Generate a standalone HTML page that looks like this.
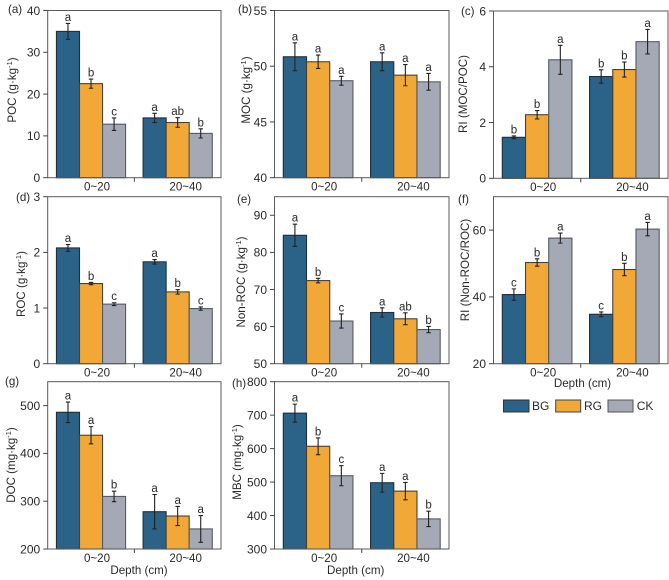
<!DOCTYPE html>
<html>
<head>
<meta charset="utf-8">
<title>Soil carbon fractions by depth</title>
<style>
html,body{margin:0;padding:0;background:#fff;width:669px;height:580px;overflow:hidden}
svg{display:block;font-family:"Liberation Sans",Arial,sans-serif;fill:#2a2a2a;filter:blur(0.3px)}
</style>
</head>
<body>
<svg id="chart" width="669" height="580" viewBox="0 0 669 580" xmlns="http://www.w3.org/2000/svg">
  <text x="582.5" y="387" font-size="11.6" text-anchor="middle">Depth (cm)</text>
  <text x="139" y="574" font-size="11.6" text-anchor="middle">Depth (cm)</text>
  <text x="355.7" y="574" font-size="11.6" text-anchor="middle">Depth (cm)</text>
  <g>
    <rect x="503.5" y="400" width="25.5" height="12" fill="#2b6288" stroke="#333" stroke-width="1"/>
    <text x="532" y="410" font-size="12">BG</text>
    <rect x="555.7" y="400" width="25" height="12" fill="#f1a836" stroke="#444" stroke-width="1"/>
    <text x="584" y="410" font-size="12">RG</text>
    <rect x="608" y="400" width="25" height="12" fill="#a5a8b5" stroke="#555" stroke-width="1"/>
    <text x="636.7" y="410" font-size="12">CK</text>
  </g>
</svg>
<script>
const depthCategories = ["0~20", "20~40"];
const seriesNames = ["BG", "RG", "CK"];

const pocValues = [35, 22.5, 12.8, 14.3, 13.2, 10.6];
const pocErrors = [1.9, 1.1, 1.5, 1.1, 1.15, 1.1];
const pocLetters = ["a", "b", "c", "a", "ab", "b"];
const pocTicks = [0, 10, 20, 30, 40];

const mocValues = [50.85, 50.4, 48.7, 50.4, 49.2, 48.6];
const mocErrors = [1.25, 0.6, 0.4, 0.8, 0.95, 0.75];
const mocLetters = ["a", "a", "a", "a", "a", "a"];
const mocTicks = [40, 45, 50, 55];

const riMocValues = [1.47, 2.28, 4.25, 3.65, 3.9, 4.9];
const riMocErrors = [0.05, 0.15, 0.52, 0.24, 0.27, 0.44];
const riMocLetters = ["b", "b", "a", "b", "b", "a"];
const riMocTicks = [0, 2, 4, 6];

const rocValues = [2.08, 1.44, 1.07, 1.83, 1.29, 0.99];
const rocErrors = [0.06, 0.02, 0.025, 0.04, 0.04, 0.03];
const rocLetters = ["a", "b", "c", "a", "b", "c"];
const rocTicks = [0, 1, 2, 3];

const nonRocValues = [84.6, 72.4, 61.5, 63.8, 62.1, 59.2];
const nonRocErrors = [3, 0.6, 1.9, 1.25, 1.6, 0.85];
const nonRocLetters = ["a", "b", "c", "a", "ab", "b"];
const nonRocTicks = [50, 60, 70, 80, 90];

const riRocValues = [40.7, 50.3, 57.6, 34.8, 48.2, 60.3];
const riRocErrors = [1.7, 1.1, 1.5, 0.7, 1.85, 2];
const riRocLetters = ["c", "b", "a", "c", "b", "a"];
const riRocTicks = [20, 40, 60];

const docValues = [486, 438, 310, 278, 269, 242];
const docErrors = [21.5, 18, 11, 36, 20, 28];
const docLetters = ["a", "a", "b", "a", "a", "a"];
const docTicks = [200, 300, 400, 500];

const mbcValues = [706, 607, 519, 498, 473, 390];
const mbcErrors = [27, 25, 30, 28, 26, 23];
const mbcLetters = ["a", "b", "c", "a", "a", "b"];
const mbcTicks = [300, 400, 500, 600, 700, 800];

const svgNS = "http://www.w3.org/2000/svg";
const root = document.getElementById("chart");
const fills = ["#2b6288", "#f1a836", "#a5a8b5"];
const strokes = ["#1f2f3c", "#4a4030", "#555a60"];

function make(tag, parent, attrs, text) {
  const el = document.createElementNS(svgNS, tag);
  for (const k in attrs) el.setAttribute(k, attrs[k]);
  if (text !== undefined) el.textContent = text;
  parent.appendChild(el);
  return el;
}

function drawPanel(p) {
  const width = p.right - p.left;
  const yScale = v => p.bottom - (v - p.min) / (p.max - p.min) * (p.bottom - p.top);
  const groupCenter = g => p.left + width * (0.25 + 0.5 * g);
  const barWidth = width * 0.133;
  const xBar = (g, s) => groupCenter(g) + (s - 1.5) * barWidth;

  const g = make("g", root, {});
  
  

  p.values.forEach((value, i) => {
    const group = Math.floor(i / seriesNames.length);
    const s = i % seriesNames.length;
    const x = xBar(group, s);
    const y = yScale(value);
    const bar = make("rect", g, {x: x, y: y, width: barWidth, height: p.bottom - y, fill: fills[s], stroke: strokes[s], "stroke-width": 1.1});
    
    
  });

  const box = make("rect", g, {x: p.left, y: p.top, width: width, height: p.bottom - p.top, fill: "none", stroke: "#5a5a5a", "stroke-width": 1});
  
  

  p.values.forEach((value, i) => {
    const group = Math.floor(i / seriesNames.length);
    const s = i % seriesNames.length;
    const cx = xBar(group, s) + barWidth / 2;
    const hi = yScale(value + p.errors[i]);
    const lo = yScale(value - p.errors[i]);
    const err = make("path", g, {d: "M" + cx + " " + hi + "V" + lo + "M" + (cx - 2.2) + " " + hi + "h4.4M" + (cx - 2.2) + " " + lo + "h4.4", fill: "none", stroke: "#222", "stroke-width": 1.1});
    
    
    const letter = make("text", g, {x: cx, y: hi - 2.5, "font-size": 11.5, "text-anchor": "middle"}, p.letters[i]);
    
    
  });

  p.ticks.forEach(t => {
    const y = yScale(t);
    const tick = make("line", g, {x1: p.left - 4.5, x2: p.left, y1: y, y2: y, stroke: "#444", "stroke-width": 1});
    
    
    const label = make("text", g, {x: p.left - 7.5, y: y + 4.3, "font-size": 12, "text-anchor": "end"}, t);
    
    
  });

  const midTick = make("line", g, {x1: p.left + width / 2, x2: p.left + width / 2, y1: p.bottom, y2: p.bottom + 4, stroke: "#444", "stroke-width": 1});
  
  

  depthCategories.forEach((c, idx) => {
    const label = make("text", g, {x: groupCenter(idx) + (idx ? 8 : 6), y: p.bottom + 12.8, "font-size": 11.6, "text-anchor": "middle"}, c);
    
    
  });

  const title = make("text", g, {transform: "translate(" + p.titleX + "," + p.titleY + ") rotate(-90)", "font-size": 11.6, "text-anchor": "middle"});
  
  
  make("tspan", title, {}, p.title);
  if (p.unit) {
    make("tspan", title, {dy: -4, "font-size": 7.5}, "-1");
    make("tspan", title, {dy: 4}, ")");
  }

  const tag = make("text", g, {x: p.tagX, y: p.tagY, "font-size": 11.6}, "(" + p.id + ")");
  
  
}

const col1 = {left: 47.7, right: 221};
const col2 = {left: 274.5, right: 449};
const col3 = {left: 493.5, right: 668};
const row1 = {top: 10.5, bottom: 177.7};
const row2 = {top: 196.7, bottom: 363.7};
const row3 = {top: 381.7, bottom: 549};

drawPanel({...col1, ...row1, id: "a", min: 0, max: 40, values: pocValues, errors: pocErrors, letters: pocLetters, ticks: pocTicks, title: "POC (g·kg", unit: true, titleX: 16, titleY: 90, tagX: 8, tagY: 13});
drawPanel({...col2, ...row1, id: "b", min: 40, max: 55, values: mocValues, errors: mocErrors, letters: mocLetters, ticks: mocTicks, title: "MOC (g·kg", unit: true, titleX: 250, titleY: 90, tagX: 238, tagY: 13});
drawPanel({...col3, top: 11, bottom: 178.3, id: "c", min: 0, max: 6, values: riMocValues, errors: riMocErrors, letters: riMocLetters, ticks: riMocTicks, title: "RI (MOC/POC)", unit: false, titleX: 467, titleY: 94, tagX: 461, tagY: 15});
drawPanel({...col1, ...row2, id: "d", min: 0, max: 3, values: rocValues, errors: rocErrors, letters: rocLetters, ticks: rocTicks, title: "ROC (g·kg", unit: true, titleX: 25, titleY: 284, tagX: 16, tagY: 201});
drawPanel({...col2, ...row2, id: "e", min: 50, max: 95, values: nonRocValues, errors: nonRocErrors, letters: nonRocLetters, ticks: nonRocTicks, title: "Non-ROC (g·kg", unit: true, titleX: 245, titleY: 282, tagX: 237, tagY: 203});
drawPanel({...col3, ...row2, id: "f", min: 20, max: 70, values: riRocValues, errors: riRocErrors, letters: riRocLetters, ticks: riRocTicks, title: "RI (Non-ROC/ROC)", unit: false, titleX: 469, titleY: 270, tagX: 458, tagY: 203});
drawPanel({...col1, ...row3, id: "g", min: 200, max: 550, values: docValues, errors: docErrors, letters: docLetters, ticks: docTicks, title: "DOC (mg·kg", unit: true, titleX: 15, titleY: 465, tagX: 5, tagY: 385});
drawPanel({...col2, ...row3, id: "h", min: 300, max: 800, values: mbcValues, errors: mbcErrors, letters: mbcLetters, ticks: mbcTicks, title: "MBC (mg·kg", unit: true, titleX: 241, titleY: 462, tagX: 232, tagY: 387});
</script>
</body>
</html>
